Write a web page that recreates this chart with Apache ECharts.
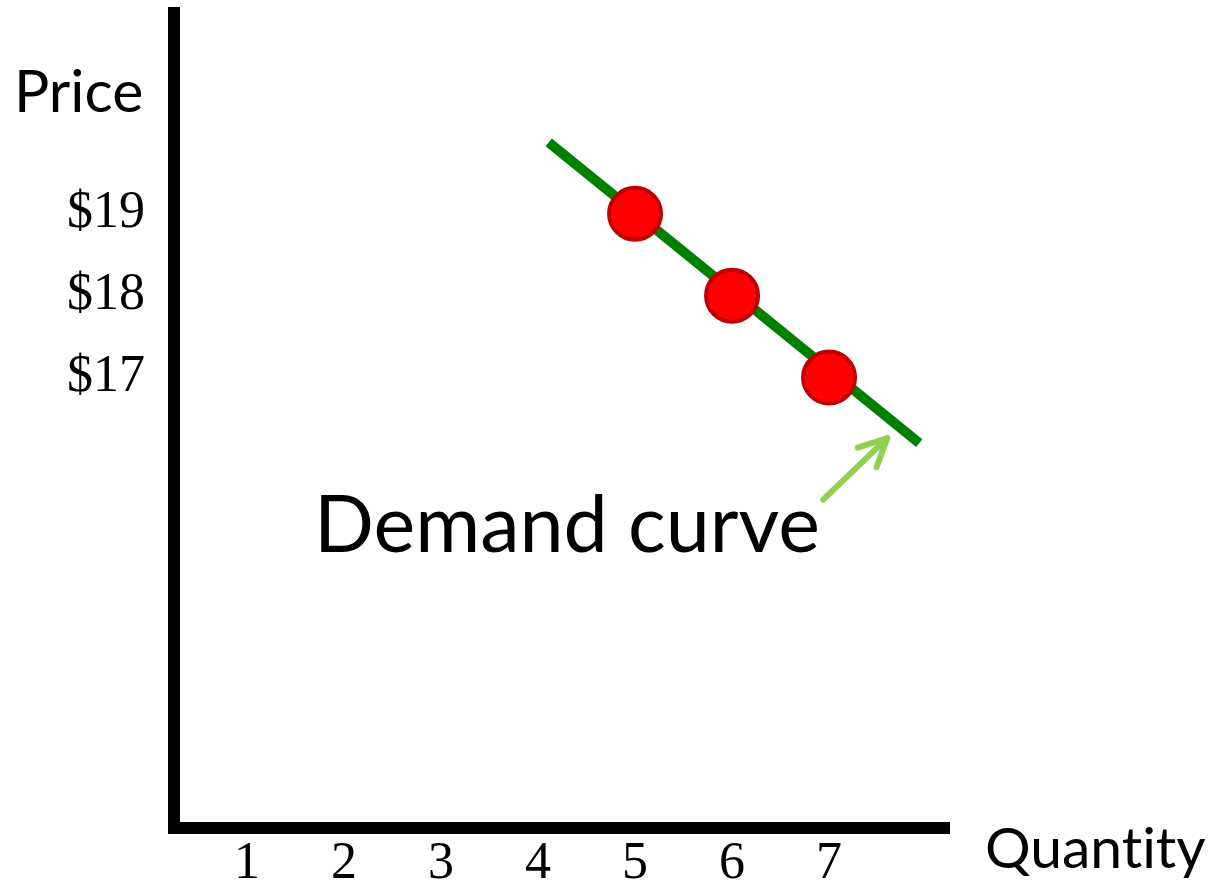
<!DOCTYPE html>
<html>
<head>
<meta charset="utf-8">
<script src="https://cdn.jsdelivr.net/npm/echarts@6/dist/echarts.min.js"></script>
<style>
html,body{margin:0;padding:0;background:#fff;}
#chart{width:1222px;height:890px;}
</style>
</head>
<body>
<div id="chart"></div>
<script>
// ---- data ----
const quantityTicks = [1, 2, 3, 4, 5, 6, 7];
const priceTicks = [17, 18, 19];
const pointQuantity = [5, 6, 7];
const pointPrice = [19, 18, 17];
const curveQuantity = [4.11, 7.93];
const curvePrice = [19.87, 16.2];
const arrowQuantity = [6.94, 7.6];
const arrowPrice = [15.51, 16.26];
const yAxisTitle = 'Price';
const xAxisTitle = 'Quant\u200City'; // "Quantity" (ZWNJ avoids the ti ligature)
const curveLabel = 'Demand curve';

const chart = echarts.init(document.getElementById('chart'), null, {renderer: 'canvas'});

const sansFont = 'Lato';
const serifFont = '"Liberation Serif", "Times New Roman", serif';

const option = {
  backgroundColor: '#ffffff',
  animation: false,
  grid: {left: 174, right: 278, top: 13, bottom: 61, containLabel: false},
  xAxis: {
    type: 'value',
    min: 0.247,
    max: 8.185,
    splitLine: {show: false},
    axisTick: {show: false},
    axisLine: {show: true, onZero: false, lineStyle: {color: '#000', width: 12, cap: 'square'}},
    axisLabel: {
      customValues: quantityTicks,
      formatter: v => String(v),
      color: '#000',
      fontFamily: serifFont,
      fontSize: 52,
      margin: 10
    }
  },
  yAxis: {
    type: 'value',
    min: 11.5,
    max: 21.451,
    splitLine: {show: false},
    axisTick: {show: false},
    axisLine: {show: true, onZero: false, lineStyle: {color: '#000', width: 12, cap: 'square'}},
    axisLabel: {
      customValues: priceTicks,
      formatter: v => '$' + v,
      color: '#000',
      fontFamily: serifFont,
      fontSize: 52,
      margin: 29
    }
  },
  series: [
    {
      type: 'line',
      name: 'Demand curve',
      data: curveQuantity.map((q, i) => [q, curvePrice[i]]),
      showSymbol: false,
      symbol: 'none',
      lineStyle: {color: '#008000', width: 10, cap: 'butt'},
      z: 2,
      silent: true
    },
    {
      type: 'scatter',
      data: pointQuantity.map((q, i) => [q, pointPrice[i]]),
      symbol: 'circle',
      symbolSize: 52,
      itemStyle: {color: '#ff0000', borderColor: '#c00000', borderWidth: 4, opacity: 1},
      z: 3,
      silent: true
    },
    {
      type: 'custom',
      data: [[arrowQuantity[0], arrowPrice[0], arrowQuantity[1], arrowPrice[1]]],
      encode: {x: [0, 2], y: [1, 3]},
      z: 4,
      silent: true,
      renderItem: function (params, api) {
        const p0 = api.coord([api.value(0), api.value(1)]);
        const p1 = api.coord([api.value(2), api.value(3)]);
        const ang = Math.atan2(p1[1] - p0[1], p1[0] - p0[0]);
        const back = ang + Math.PI;
        const len = 31, spread = 26 * Math.PI / 180;
        const a1 = [p1[0] + len * Math.cos(back + spread), p1[1] + len * Math.sin(back + spread)];
        const a2 = [p1[0] + len * Math.cos(back - spread), p1[1] + len * Math.sin(back - spread)];
        const st = {stroke: '#92d050', lineWidth: 6, fill: null, lineCap: 'round', lineJoin: 'round'};
        return {
          type: 'group',
          children: [
            {type: 'polyline', shape: {points: [p0, p1]}, style: st},
            {type: 'polyline', shape: {points: [a1, p1, a2]}, style: st}
          ]
        };
      }
    }
  ],
  graphic: [
    {
      type: 'text', left: 14, top: 93 - 30,
      style: {text: yAxisTitle, fill: '#000', font: '59px ' + sansFont}
    },
    {
      type: 'text', left: 985, top: 850 - 29,
      style: {text: xAxisTitle, fill: '#000', font: '57px ' + sansFont}
    },
    {
      type: 'text', left: 314, top: 527 - 40,
      style: {text: curveLabel, fill: '#000', font: '79px ' + sansFont}
    }
  ]
};
chart.setOption(option);
</script>
</body>
</html>
